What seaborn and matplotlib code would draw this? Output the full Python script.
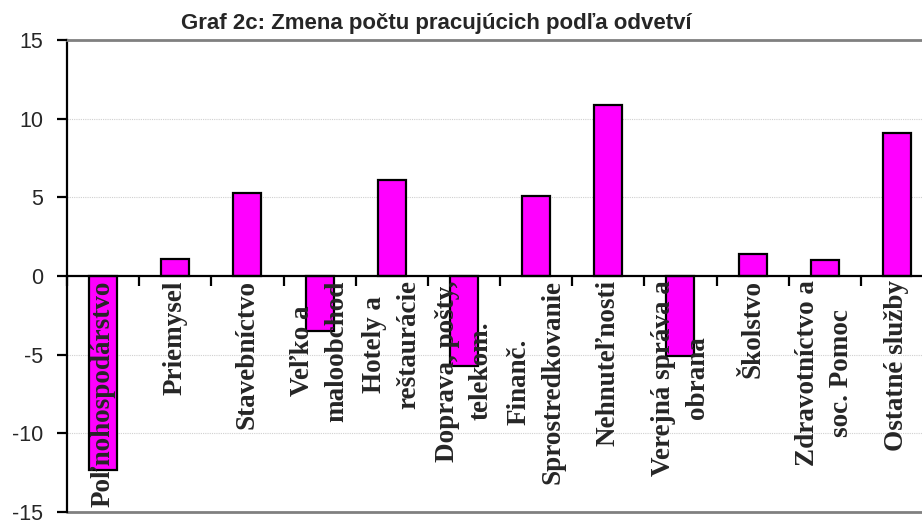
import matplotlib
matplotlib.use('Agg')
import matplotlib.pyplot as plt
import seaborn as sns

# Dáta odčítané z grafu
odvetvia = [
    'Poľnohospodárstvo', 'Priemysel', 'Stavebníctvo', 'Veľko a\nmaloobchod',
    'Hotely a\nreštaurácie', 'Doprava, pošty,\ntelekom.', 'Finanč.\nSprostredkovanie',
    'Nehnuteľnosti', 'Verejná správa a\nobrana', 'Školstvo',
    'Zdravotníctvo a\nsoc. Pomoc', 'Ostatné služby',
]
zmena = [-12.3, 1.1, 5.3, -3.5, 6.1, -5.7, 5.1, 10.9, -5.1, 1.4, 1.0, 9.1]
y_ticks = [-15, -10, -5, 0, 5, 10, 15]

sns.set_style('white')
plt.rcParams['font.family'] = ['Liberation Sans', 'DejaVu Sans']

fig = plt.figure(figsize=(9.22, 5.24), dpi=100)
ax = fig.add_axes([67 / 922, 12 / 524, 866 / 922, 472 / 524])

sns.barplot(x=list(range(len(zmena))), y=zmena, color='#FF00FF', saturation=1,
            edgecolor='black', linewidth=1.6, width=0.39, ax=ax, zorder=1)
ax.set_axisbelow(False)  # popisky osi cez stĺpce

ax.set_xlim(-0.5, len(zmena) - 0.5)
ax.set_ylim(-15, 15)
ax.set_yticks(y_ticks)
ax.set_yticklabels([str(t) for t in y_ticks], fontsize=15.5)

# mriežka
for t in [-10, -5, 5, 10]:
    ax.axhline(t, color='#d0d0d0', lw=0.8, ls=(0, (1, 1)), zorder=0)
ax.axhline(-15, color='#808080', lw=2, zorder=0, clip_on=False)

# os x na nule
ax.spines['bottom'].set_position(('data', 0))
ax.spines['bottom'].set_color('black')
ax.spines['bottom'].set_linewidth(1.6)
ax.spines['left'].set_color('black')
ax.spines['left'].set_linewidth(1.6)
ax.spines['top'].set_color('#808080')
ax.spines['top'].set_linewidth(2)
ax.spines['right'].set_visible(False)

ax.set_xticks(range(len(odvetvia)))
ax.set_xticks([i - 0.5 for i in range(len(odvetvia) + 1)], minor=True)
ax.set_xticklabels(odvetvia, rotation=90, fontsize=19.5, fontweight='bold',
                   family=['Liberation Serif', 'DejaVu Serif'],
                   ha='center', va='top', multialignment='center', linespacing=1.45)
ax.tick_params(axis='x', which='major', length=0, pad=3)
ax.tick_params(axis='x', which='minor', bottom=True, length=7, width=1.6, color='black')
ax.tick_params(axis='y', left=True, length=7, width=1.6, color='black', pad=10)
ax.set_xlabel('')
ax.set_ylabel('')

fig.text(436 / 922, 1 - 24 / 524, 'Graf 2c: Zmena počtu pracujúcich podľa odvetví',
         ha='center', va='center', fontsize=16, fontweight='bold')

fig.savefig('out.png', dpi=100)
